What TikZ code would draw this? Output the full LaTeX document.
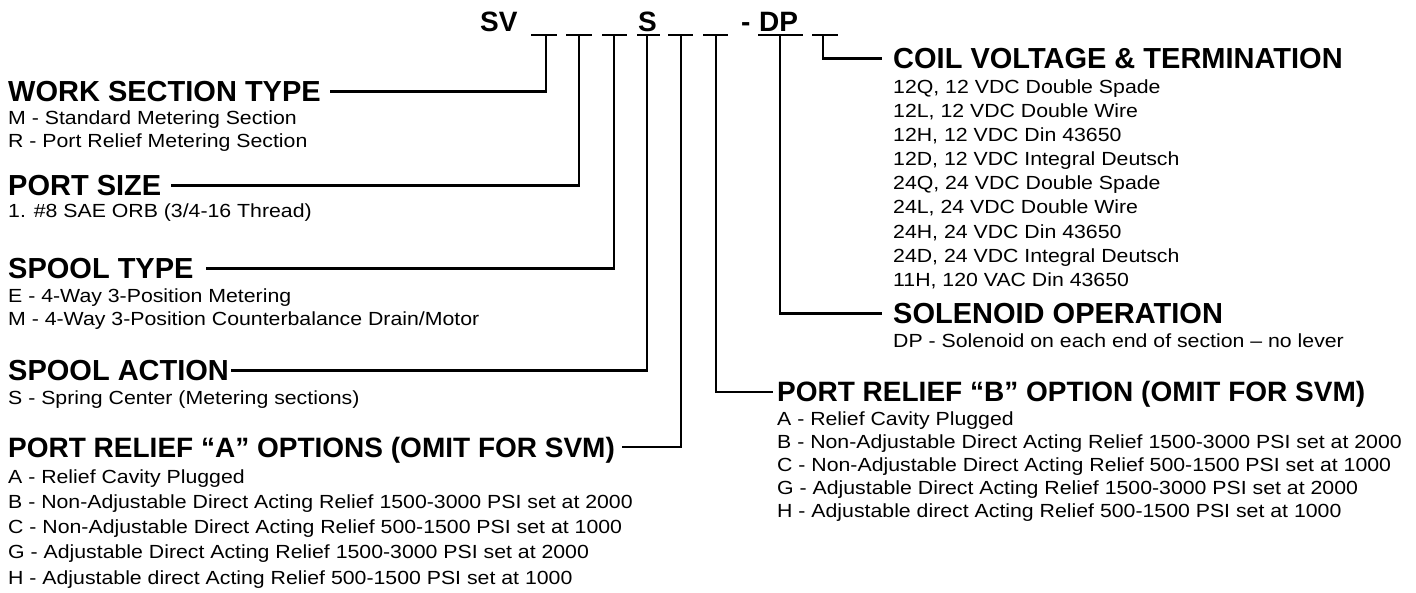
\documentclass[tikz,border=0pt]{standalone}
\usepackage{fontspec}
\setmainfont{Liberation Sans}
\newfontfamily\itemfamily[FakeStretch=1.12]{Liberation Sans}
\usetikzlibrary{positioning}
\tikzset{
  head/.style={font=\fontsize{29}{32}\selectfont\bfseries, anchor=base west,
               inner sep=0pt, text height=20.8pt, text depth=0pt},
  prhead/.style={head, font=\fontsize{28}{31}\selectfont\bfseries, text height=20pt},
  code/.style={head, font=\fontsize{28}{30}\selectfont\bfseries},
  item/.style={font=\itemfamily\fontsize{19}{21}\selectfont, anchor=base west,
               inner sep=0pt},
  lead/.style={line width=2.4pt},
}

\begin{document}
\begin{tikzpicture}[x=1pt,y=-1pt]
\useasboundingbox (0,0) rectangle (1416,593);

% ── Model code ────────────────────────────────────────────────────────────────
\node[code] (sv) at (480,32) {SV};
\foreach \n/\a/\b/\s in {1/531/557/546, 2/566/592/579, 3/602/627/614, 4/637/660/647,
                         5/668/693/681, 6/703/728/716, 7/758/803/780, 8/812/838/823} {
  \draw[lead] (\a,35) -- (\b,35);
  \coordinate (b\n) at (\s,35);
}
\node[code] (spool) at (638,32) {S};
\node[code] (dash) at (741,32) {-};
\node[code] (dp) at (759,32) {DP};

% ── Left column ───────────────────────────────────────────────────────────────
\node[head] (wst) at (8,102) {WORK SECTION TYPE};
\foreach \t [count=\i from 0] in {{M - Standard Metering Section},
                                  {R - Port Relief Metering Section}}
  \node[item] (wst-\i) at (8,124.5+23*\i) {\t};

\node[head] (psz) at (8,196) {PORT SIZE};
\node[item] (psz-0) at (8,218) {1. \#8 SAE ORB (3/4-16 Thread)};

\node[head] (spt) at (8,279) {SPOOL TYPE};
\foreach \t [count=\i from 0] in {{E - 4-Way 3-Position Metering},
                                  {M - 4-Way 3-Position Counterbalance Drain/Motor}}
  \node[item] (spt-\i) at (8,303+23*\i) {\t};

\node[head] (spa) at (8,381) {SPOOL ACTION};
\node[item] (spa-0) at (8,404) {S - Spring Center (Metering sections)};

\node[prhead] (pra) at (8,457) {PORT RELIEF “A” OPTIONS (OMIT FOR SVM)};
\foreach \t [count=\i from 0] in {{A - Relief Cavity Plugged},
    {B - Non-Adjustable Direct Acting Relief 1500-3000 PSI set at 2000},
    {C - Non-Adjustable Direct Acting Relief 500-1500 PSI set at 1000},
    {G - Adjustable Direct Acting Relief 1500-3000 PSI set at 2000},
    {H - Adjustable direct Acting Relief 500-1500 PSI set at 1000}}
  \node[item] (pra-\i) at (8,483+25.3*\i) {\t};

% ── Right column ──────────────────────────────────────────────────────────────
\node[head] (coil) at (893,69) {COIL VOLTAGE \& TERMINATION};
\foreach \t [count=\i from 0] in {{12Q, 12 VDC Double Spade}, {12L, 12 VDC Double Wire},
    {12H, 12 VDC Din 43650}, {12D, 12 VDC Integral Deutsch},
    {24Q, 24 VDC Double Spade}, {24L, 24 VDC Double Wire},
    {24H, 24 VDC Din 43650}, {24D, 24 VDC Integral Deutsch},
    {11H, 120 VAC Din 43650}}
  \node[item] (coil-\i) at (893,93.5+24.1*\i) {\t};

\node[head] (sol) at (893,324) {SOLENOID OPERATION};
\node[item] (sol-0) at (893,348) {DP - Solenoid on each end of section – no lever};

\node[prhead] (prb) at (777,402) {PORT RELIEF “B” OPTION (OMIT FOR SVM)};
\foreach \t [count=\i from 0] in {{A - Relief Cavity Plugged},
    {B - Non-Adjustable Direct Acting Relief 1500-3000 PSI set at 2000},
    {C - Non-Adjustable Direct Acting Relief 500-1500 PSI set at 1000},
    {G - Adjustable Direct Acting Relief 1500-3000 PSI set at 2000},
    {H - Adjustable direct Acting Relief 500-1500 PSI set at 1000}}
  \node[item] (prb-\i) at (777,425+23.2*\i) {\t};

% ── Leaders ───────────────────────────────────────────────────────────────────
\draw[lead] (b1) |- ([xshift=9pt]wst.east);
\draw[lead] (b2) |- ([xshift=10pt]psz.east);
\draw[lead] (b3) |- ([xshift=12pt]spt.east);
\draw[lead] (b4) |- ([xshift=2pt]spa.east);
\draw[lead] (b5) |- ([xshift=7pt]pra.east);
\draw[lead] (b6) |- ([xshift=-4pt]prb.west);
\draw[lead] (b7) |- ([xshift=-11pt]sol.west);
\draw[lead] (b8) |- ([xshift=-11pt]coil.west);

\end{tikzpicture}
\end{document}
